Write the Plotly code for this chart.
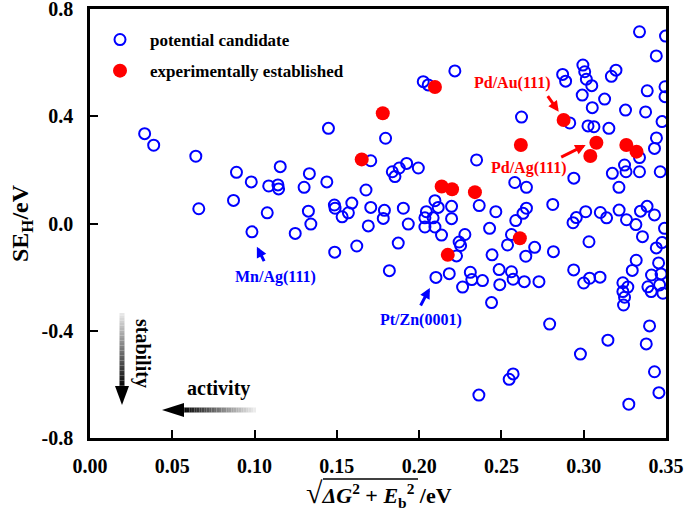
import plotly.graph_objects as go

# ---- data ----
cand_x = [0.0332, 0.0387, 0.0643, 0.0890, 0.0980, 0.0872, 0.0661, 0.0984, 0.1449, 0.1796,
          0.1706, 0.1156, 0.1333, 0.1086, 0.1142, 0.1301, 0.1439, 0.1677, 0.1591, 0.1485,
          0.1489, 0.1077, 0.1327, 0.1532, 0.1570, 0.1706, 0.1789, 0.1782, 0.1691, 0.1342,
          0.1247, 0.1487, 0.1621, 0.1819, 0.1146,
          0.2217, 0.2025, 0.2055, 0.2349, 0.1837, 0.1853, 0.1879, 0.1924, 0.1995, 0.2581,
          0.2652, 0.2096, 0.2197, 0.2116, 0.2044, 0.1904, 0.2035, 0.2085, 0.2197, 0.2365,
          0.2466, 0.2652, 0.2631, 0.2587, 0.1934, 0.2035, 0.2096, 0.2136, 0.2278, 0.2243,
          0.2252, 0.2428, 0.2561, 0.2537, 0.1873, 0.2227, 0.2443, 0.2648, 0.2102, 0.2183,
          0.2311, 0.2385, 0.2486, 0.2561, 0.2571, 0.2639, 0.2490, 0.2320, 0.2264,
          0.3339, 0.3497, 0.3441, 0.2995, 0.3006, 0.2872, 0.2890, 0.3016, 0.3049, 0.3196,
          0.3168, 0.2991, 0.3127, 0.3052, 0.3254, 0.3376, 0.3386, 0.3494, 0.3494, 0.2622,
          0.2915, 0.3026, 0.3062, 0.3153, 0.3476, 0.3442, 0.3430, 0.3339, 0.3248, 0.3257,
          0.3339, 0.3174, 0.3214, 0.3465, 0.2940, 0.2812, 0.3012, 0.2955, 0.2935, 0.3101,
          0.3139, 0.3215, 0.3260, 0.3317, 0.3345, 0.3385, 0.3430, 0.3491, 0.3357, 0.3441,
          0.3476, 0.3032, 0.2702, 0.2816, 0.3319, 0.3295, 0.3455, 0.3412, 0.3470, 0.2939,
          0.3036, 0.3099, 0.3000, 0.3238, 0.3268, 0.3390, 0.3461, 0.2728, 0.3238, 0.3248,
          0.3242, 0.2440, 0.2793, 0.3400, 0.3147, 0.3380, 0.2980, 0.3430, 0.2571, 0.2547,
          0.3457, 0.3274, 0.2363, 0.3410, 0.3481]
cand_y = [0.335, 0.292, 0.251, 0.191, 0.155, 0.086, 0.055, -0.031, 0.355, 0.318,
          0.234, 0.212, 0.186, 0.140, 0.144, 0.135, 0.155, 0.125, 0.076, 0.069,
          0.057, 0.040, 0.046, 0.025, 0.040, 0.060, 0.049, 0.019, -0.009, -0.002,
          -0.037, -0.107, -0.084, -0.176, 0.129,
          0.569, 0.529, 0.517, 0.237, 0.193, 0.175, 0.207, 0.224, 0.207, 0.153,
          0.135, 0.085, 0.064, 0.060, 0.044, 0.057, 0.021, 0.021, 0.018, 0.067,
          0.044, 0.057, 0.038, 0.011, -0.002, -0.013, -0.013, -0.043, -0.041, -0.069,
          -0.082, -0.018, -0.041, -0.080, -0.073, -0.121, -0.117, -0.122, -0.201, -0.187,
          -0.182, -0.213, -0.172, -0.180, -0.208, -0.217, -0.228, -0.209, -0.237,
          0.715, 0.699, 0.625, 0.591, 0.566, 0.556, 0.531, 0.538, 0.514, 0.572,
          0.549, 0.479, 0.464, 0.432, 0.423, 0.416, 0.495, 0.510, 0.473, 0.397,
          0.375, 0.364, 0.361, 0.355, 0.380, 0.319, 0.280, 0.246, 0.218, 0.193,
          0.193, 0.187, 0.135, 0.193, 0.169, 0.071, 0.044, 0.022, 0.003, 0.041,
          0.021, 0.050, 0.014, -0.004, 0.046, 0.064, 0.032, -0.018, -0.049, -0.091,
          -0.071, -0.068, -0.089, -0.105, -0.137, -0.175, -0.147, -0.192, -0.188, -0.173,
          -0.204, -0.200, -0.222, -0.221, -0.237, -0.236, -0.229, -0.217, -0.254, -0.275,
          -0.304, -0.295, -0.375, -0.382, -0.435, -0.449, -0.487, -0.553, -0.561, -0.581,
          -0.631, -0.674, -0.640, -0.254, -0.260]

exp_x = [0.2096, 0.1779, 0.1651, 0.2137, 0.2200, 0.2339, 0.2174, 0.2618, 0.2612,
         0.2878, 0.3077, 0.3040, 0.3259, 0.3321]
exp_y = [0.509, 0.411, 0.239, 0.138, 0.128, 0.117, -0.117, 0.293, -0.055,
         0.386, 0.301, 0.252, 0.293, 0.268]

x_ticks = [0.00, 0.05, 0.10, 0.15, 0.20, 0.25, 0.30, 0.35]
x_tick_labels = ["0.00", "0.05", "0.10", "0.15", "0.20", "0.25", "0.30", "0.35"]
y_ticks = [0.8, 0.4, 0.0, -0.4, -0.8]
y_tick_labels = ["0.8", "0.4", "0.0", "-0.4", "-0.8"]

series_names = ["potential candidate", "experimentally established"]

# ---- styling ----
FONT = "Liberation Serif, Times New Roman, serif"
BLUE = "#0000FF"
RED = "#FF0000"

fig = go.Figure()
fig.add_trace(go.Scatter(
    x=cand_x, y=cand_y, mode="markers", name=series_names[0], legendgroup="a",
    marker=dict(symbol="circle-open", size=11, color=BLUE, line=dict(width=2, color=BLUE)),
))
fig.add_trace(go.Scatter(
    x=exp_x, y=exp_y, mode="markers", name=series_names[1], legendgroup="b",
    marker=dict(symbol="circle", size=14, color=RED, line=dict(width=0)),
))

axis_common = dict(
    showline=True, linecolor="black", linewidth=2.5, mirror=True,
    ticks="inside", ticklen=8, tickwidth=2, tickcolor="black",
    showgrid=False, zeroline=False, automargin=False, ticklabeloverflow="allow",
    tickfont=dict(family=FONT, size=20, color="black", weight="bold"),
)
fig.update_xaxes(range=[0, 0.35], tickvals=x_ticks, ticktext=x_tick_labels,
                 ticklabelstandoff=8, **axis_common)
fig.update_yaxes(range=[-0.8, 0.8], tickvals=y_ticks, ticktext=y_tick_labels,
                 ticklabelstandoff=10, **axis_common)

L, R, T, B = 90, 19, 9, 85
W, H = 685, 523
pw, ph = W - L - R, H - T - B


def px(x):
    return (x - L) / pw


def py(y):
    return (H - B - y) / ph


def paper_text(x, y, text, size, color="black", angle=0):
    return dict(x=px(x), y=py(y), xref="paper", yref="paper", showarrow=False,
                xanchor="center", yanchor="middle", textangle=angle, text=text,
                font=dict(family=FONT, size=size, color=color))


annotations = []
# axis titles
annotations.append(paper_text(22, 223, "<b>SE<sub>H</sub>/eV</b>", 24, angle=-90))
annotations.append(paper_text(
    379, 493,
    "<b><span style='font-size:30px'>√</span><i>ΔG</i><sup>2</sup> + <i>E</i><sub>b</sub><sup>2</sup> /eV</b>",
    22))

# labels
lab_font = dict(family=FONT, size=16)
annotations += [
    dict(x=0.2563, y=0.524, text="<b>Pd/Au(111)</b>", showarrow=False, font=dict(color=RED, **lab_font)),
    dict(x=0.2666, y=0.207, text="<b>Pd/Ag(111)</b>", showarrow=False, font=dict(color=RED, **lab_font)),
    dict(x=0.1125, y=-0.1995, text="<b>Mn/Ag(111)</b>", showarrow=False, font=dict(color=BLUE, **lab_font)),
    dict(x=0.2011, y=-0.360, text="<b>Pt/Zn(0001)</b>", showarrow=False, font=dict(color=BLUE, **lab_font)),
]
# arrows (tip in data coords, tail offset in pixels)
for (tx, ty, ax, ay, col) in [(0.2848, 0.417, -12, -17, RED),
                              (0.3012, 0.293, -26, 13, RED),
                              (0.1014, -0.0865, 8, 16, BLUE),
                              (0.2065, -0.2406, -10, 19, BLUE)]:
    annotations.append(dict(x=tx, y=ty, ax=ax, ay=ay, text="", showarrow=True,
                            arrowhead=2, arrowsize=0.7, arrowwidth=3, arrowcolor=col))

# stability / activity
annotations.append(paper_text(143, 353, "<b>stability</b>", 20, angle=90))
annotations.append(paper_text(218, 388, "<b>activity</b>", 20))

shapes = []
# overline of the square root in the x title
shapes.append(dict(type="line", xref="paper", yref="paper",
                   x0=px(323), x1=px(418), y0=py(479), y1=py(479),
                   line=dict(color="black", width=1.5)))
N = 30
# vertical gradient shaft (light at top -> black at bottom)
y0, y1 = 313, 388
for i in range(N):
    a = y0 + (y1 - y0) * i / N
    b = y0 + (y1 - y0) * (i + 1) / N
    g = int(235 * (1 - (i + 0.5) / N))
    shapes.append(dict(type="rect", xref="paper", yref="paper",
                       x0=px(119.5), x1=px(124.5), y0=py(b), y1=py(a),
                       fillcolor=f"rgb({g},{g},{g})", line=dict(width=0)))
shapes.append(dict(type="path", xref="paper", yref="paper",
                   path=f"M {px(115)} {py(386)} L {px(129)} {py(386)} L {px(122)} {py(405)} Z",
                   fillcolor="black", line=dict(width=0)))
# horizontal gradient shaft (black at left -> light at right)
x0, x1 = 182, 256
for i in range(N):
    a = x0 + (x1 - x0) * i / N
    b = x0 + (x1 - x0) * (i + 1) / N
    g = int(240 * ((i + 0.5) / N))
    shapes.append(dict(type="rect", xref="paper", yref="paper",
                       x0=px(a), x1=px(b), y0=py(412.5), y1=py(407.5),
                       fillcolor=f"rgb({g},{g},{g})", line=dict(width=0)))
shapes.append(dict(type="path", xref="paper", yref="paper",
                   path=f"M {px(184)} {py(403)} L {px(184)} {py(417)} L {px(162)} {py(410)} Z",
                   fillcolor="black", line=dict(width=0)))

fig.update_layout(
    width=W, height=H,
    margin=dict(l=L, r=R, t=T, b=B, autoexpand=False),
    paper_bgcolor="white", plot_bgcolor="white",
    showlegend=True,
    legend=dict(x=px(90), y=py(22), xanchor="left", yanchor="top", itemwidth=50,
                bgcolor="rgba(0,0,0,0)", traceorder="grouped", tracegroupgap=6,
                font=dict(family=FONT, size=17, color="black", weight="bold")),
    annotations=annotations,
    shapes=shapes,
)

fig.write_html("out.html", config={"displayModeBar": False},
               post_script="document.body.style.margin='0';document.body.style.overflow='hidden';")
